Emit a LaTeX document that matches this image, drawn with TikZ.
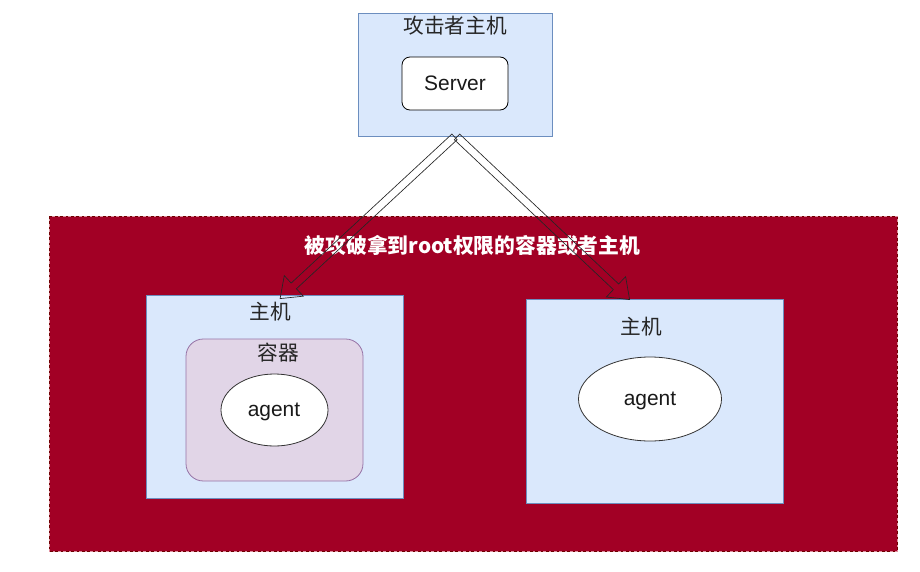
\documentclass[tikz,border=0pt]{standalone}
\usepackage{fontspec}
\setmainfont{Liberation Sans}
\newfontfamily\cjk{Noto Sans CJK SC}
\usetikzlibrary{calc,shapes.geometric}
\definecolor{bluefill}{HTML}{DAE8FC}
\definecolor{bluedraw}{HTML}{6C8EBF}
\definecolor{purfill}{HTML}{E1D5E7}
\definecolor{purdraw}{HTML}{9673A6}
\definecolor{redfill}{HTML}{A20025}
\definecolor{reddraw}{HTML}{6F0000}
\definecolor{redlight}{HTML}{E090A0}
\tikzset{
  hostbox/.style={draw=bluedraw,fill=bluefill,line width=0.6pt,inner sep=0pt},
  contbox/.style={draw=purdraw,fill=purfill,rounded corners=13pt,line width=0.6pt,inner sep=0pt},
  agentell/.style={draw=black!80,fill=white,ellipse,line width=0.6pt,inner sep=0pt},
  serverbox/.style={draw=black,fill=white,rounded corners=6pt,line width=0.6pt,inner sep=0pt},
  cjklabel/.style={font=\cjk\fontsize{15.5}{18}\selectfont,text=black!85,inner sep=0pt},
  latlabel/.style={font=\fontsize{15.7}{18}\selectfont,text=black!90,inner sep=0pt},
  flexline/.style={draw=black!85,line width=0.5pt,line join=miter},
}
\newcommand\flexarrow[2]{%
  \coordinate (fH) at ($(#2)!14pt!(#1)$);
  \draw[flexline]
    ($(#1)!2.9pt!90:(#2)$) -- ($(fH)!2.9pt!90:(#2)$) -- ($(fH)!10.5pt!90:(#2)$) --
    (#2) -- ($(fH)!10.5pt!-90:(#2)$) -- ($(fH)!2.9pt!-90:(#2)$) --
    ($(#1)!2.9pt!-90:(#2)$) -- cycle;}
\begin{document}
\begin{tikzpicture}[x=0.75pt,y=-0.75pt]
\useasboundingbox (0,0) rectangle (920,571);
% compromised region
\fill[redfill] (49,216) rectangle (897,551);
\draw[redlight,line width=0.6pt] (49,216) rectangle (897,551);
\draw[reddraw,line width=0.6pt,dash pattern=on 2pt off 2pt] (49,216) rectangle (897,551);
\node[font=\cjk\bfseries\fontsize{15.6}{18}\selectfont,text=white,inner sep=0pt] (regiontitle) at (472.5,246) {被攻破拿到root权限的容器或者主机};
% left host
\node[hostbox,minimum width=257*0.75pt,minimum height=203*0.75pt] (hostL) at (274.5,396.5) {};
\node[cjklabel] (hostLlbl) at (270.5,312) {主机};
\node[contbox,minimum width=177*0.75pt,minimum height=142*0.75pt] (cont) at (274.5,410) {};
\node[cjklabel] (contlbl) at (278,352.5) {容器};
\node[agentell,minimum width=107*0.75pt,minimum height=72*0.75pt] (agentL) at (274.5,410) {};
\node[latlabel] (agentLlbl) at (274,412) {agent};
% right host
\node[hostbox,minimum width=257*0.75pt,minimum height=204*0.75pt] (hostR) at (654.5,401) {};
\node[cjklabel] (hostRlbl) at (641,326.5) {主机};
\node[agentell,minimum width=143*0.75pt,minimum height=84*0.75pt] (agentR) at (650,399) {};
\node[latlabel] (agentRlbl) at (650,401) {agent};
% attacker
\node[hostbox,minimum width=194*0.75pt,minimum height=123*0.75pt] (att) at (455,74.5) {};
\node[cjklabel] (attlbl) at (455,26) {攻击者主机};
\node[serverbox,minimum width=106*0.75pt,minimum height=53*0.75pt] (server) at (455,83.5) {};
\node[latlabel] (serverlbl) at (455,83.5) {Server};
% arrows
\coordinate (sL) at ($(att.south)+(-0.5,0.5)$);
\coordinate (sR) at ($(att.south)+(2,0.5)$);
\coordinate (tL) at ($(hostL.north west)+(134.5,4)$);
\coordinate (tR) at ($(hostR.north west)+(104,1)$);
\flexarrow{sL}{tL}
\flexarrow{sR}{tR}
\end{tikzpicture}
\end{document}
